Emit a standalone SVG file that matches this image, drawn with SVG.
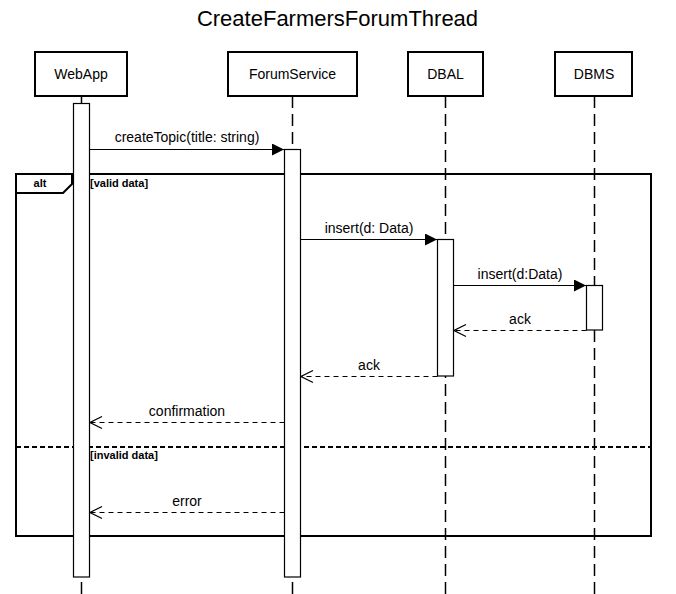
<svg xmlns="http://www.w3.org/2000/svg" width="676" height="594" viewBox="0 0 676 594">
<style>
  text { font-family: "Liberation Sans", Arial, sans-serif; fill: #000; }
  .title { font-size: 22px; text-anchor: middle; }
  .hdr { fill: #fff; stroke: #000; stroke-width: 2; }
  .hlabel { font-size: 14px; text-anchor: middle; }
  .life { stroke: #000; stroke-width: 1.5; stroke-dasharray: 12 6; fill: none; }
  .act { fill: #fff; stroke: #000; stroke-width: 1.2; }
  .msg { stroke: #000; stroke-width: 1.2; fill: none; }
  .ret { stroke: #000; stroke-width: 1.2; fill: none; stroke-dasharray: 5 4; }
  .mlabel { font-size: 14px; text-anchor: middle; }
  .frame { fill: none; stroke: #000; stroke-width: 2; }
  .sep { stroke: #000; stroke-width: 2; stroke-dasharray: 5 3; }
  .flabel { font-size: 11px; font-weight: bold; }
</style>
<defs>
  <marker id="filled" markerWidth="12" markerHeight="12" refX="12" refY="6" orient="auto" markerUnits="userSpaceOnUse">
    <path d="M0,0 L12,6 L0,12 Z" fill="#000"/>
  </marker>
  <marker id="open" markerWidth="14" markerHeight="14" refX="13" refY="7" orient="auto" markerUnits="userSpaceOnUse">
    <path d="M1,1 L13,7 L1,13" fill="none" stroke="#000" stroke-width="1.2"/>
  </marker>
</defs>
<rect width="676" height="594" fill="#fff"/>
<text class="title" x="337.5" y="26">CreateFarmersForumThread</text>

<g id="frame-alt">
  <rect class="frame" x="16" y="174" width="635" height="362"/>
  <path class="frame" d="M16,193 L63,193 L72,184 L72,174"/>
  <text class="flabel" x="40" y="187" text-anchor="middle">alt</text>
  <text class="flabel" x="90" y="187">[valid data]</text>
  <line class="sep" x1="16" y1="447" x2="651" y2="447"/>
  <text class="flabel" x="90" y="459">[invalid data]</text>
</g>

<g id="WebApp">
  <rect class="hdr" x="35" y="52" width="92" height="44"/>
  <text class="hlabel" x="81" y="79">WebApp</text>
  <line x1="81.5" y1="96" x2="81.5" y2="103" stroke="#000" stroke-width="1.5"/>
  <rect class="act" x="73.5" y="103.5" width="16" height="473.5"/>
  <line class="life" x1="81.5" y1="582" x2="81.5" y2="594"/>
</g>

<g id="ForumService">
  <rect class="hdr" x="228" y="52" width="129" height="44"/>
  <text class="hlabel" x="292.5" y="79">ForumService</text>
  <line class="life" x1="292.5" y1="96" x2="292.5" y2="594"/>
  <rect class="act" x="284.5" y="149.5" width="16" height="427.5"/>
</g>

<g id="DBAL">
  <rect class="hdr" x="408" y="52" width="75" height="44"/>
  <text class="hlabel" x="445.5" y="79">DBAL</text>
  <line class="life" x1="445.5" y1="96" x2="445.5" y2="594"/>
  <rect class="act" x="437.5" y="239.5" width="16" height="136.5"/>
</g>

<g id="DBMS">
  <rect class="hdr" x="555" y="52" width="77" height="44"/>
  <text class="hlabel" x="594" y="79">DBMS</text>
  <line class="life" x1="594.5" y1="96" x2="594.5" y2="594"/>
  <rect class="act" x="586.5" y="285.5" width="16" height="44.5"/>
</g>

<g id="connectors">
  <line class="msg" x1="89.5" y1="149.5" x2="284" y2="149.5" marker-end="url(#filled)"/>
  <text class="mlabel" x="187" y="142">createTopic(title: string)</text>

  <line class="msg" x1="300.5" y1="239.5" x2="437" y2="239.5" marker-end="url(#filled)"/>
  <text class="mlabel" x="369" y="233">insert(d: Data)</text>

  <line class="msg" x1="453.5" y1="285.5" x2="586" y2="285.5" marker-end="url(#filled)"/>
  <text class="mlabel" x="520" y="279">insert(d:Data)</text>

  <line class="ret" x1="586.5" y1="330.5" x2="454" y2="330.5" marker-end="url(#open)"/>
  <text class="mlabel" x="520" y="324">ack</text>

  <line class="ret" x1="437.5" y1="376.5" x2="301" y2="376.5" marker-end="url(#open)"/>
  <text class="mlabel" x="369" y="370">ack</text>

  <line class="ret" x1="284.5" y1="422.5" x2="90" y2="422.5" marker-end="url(#open)"/>
  <text class="mlabel" x="187" y="416">confirmation</text>

  <line class="ret" x1="284.5" y1="512.5" x2="90" y2="512.5" marker-end="url(#open)"/>
  <text class="mlabel" x="187" y="506">error</text>
</g>
</svg>
